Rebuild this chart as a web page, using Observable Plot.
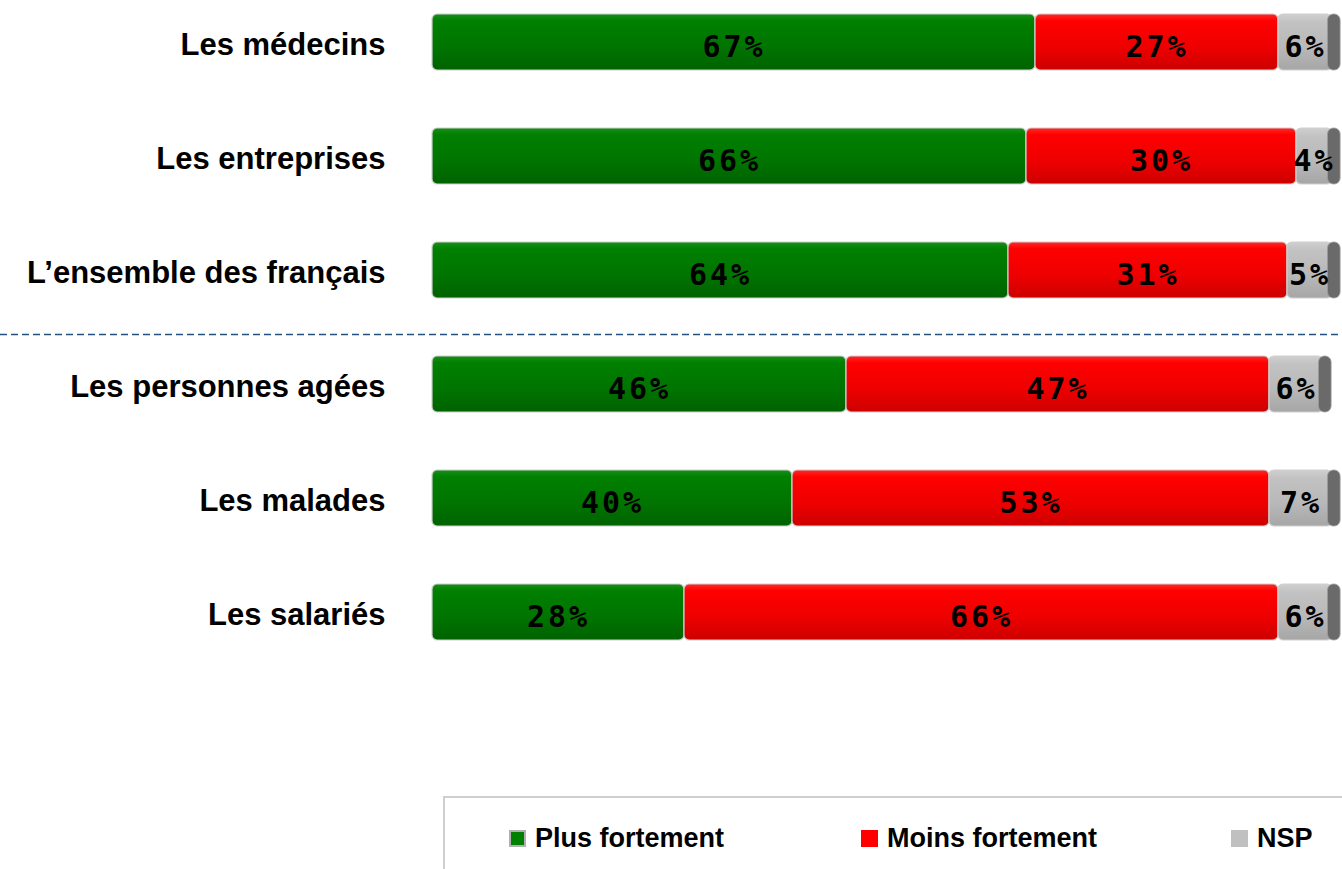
<!DOCTYPE html>
<html>
<head>
<meta charset="utf-8">
<script src="https://cdn.jsdelivr.net/npm/d3@7"></script>
<script src="https://cdn.jsdelivr.net/npm/@observablehq/plot@0.6"></script>
<style>
  body { margin: 0; background: #fff; font-family: "Liberation Sans", Arial, sans-serif; }
  #wrap { position: relative; width: 1342px; height: 869px; overflow: hidden; }
  #legend { position: absolute; left: 443px; top: 796px; width: 1000px; height: 120px;
            border: 2px solid #cfcfcf; box-sizing: border-box; }
  .item { position: absolute; top: 25px; display: flex; align-items: center;
          font: bold 27px "Liberation Sans", Arial, sans-serif; color: #000; }
  .sw { width: 17px; height: 17px; margin-right: 9px; box-sizing: border-box; }
  .vlab text { letter-spacing: 3px; }
</style>
</head>
<body>
<div id="wrap">
  <div id="chart"></div>
  <div id="legend"></div>
</div>
<script>
const categories = ["Les médecins", "Les entreprises", "L’ensemble des français",
                    "Les personnes agées", "Les malades", "Les salariés"];
const seriesNames = ["Plus fortement", "Moins fortement", "NSP"];
const plusFortement = [67, 66, 64, 46, 40, 28];
const moinsFortement = [27, 30, 31, 47, 53, 66];
const nsp = [6, 4, 5, 6, 7, 6];
const separatorBefore = "Les personnes agées";

const seriesFill = {
  "Plus fortement": "url(#gGreen)",
  "Moins fortement": "url(#gRed)",
  "NSP": "url(#gGrey)"
};
const legendColors = {"Plus fortement": "#008000", "Moins fortement": "#ff0000", "NSP": "#c0c0c0"};

const seriesValues = [plusFortement, moinsFortement, nsp];
const data = [];
categories.forEach((c, i) => {
  seriesNames.forEach((s, j) => {
    data.push({cat: c, series: s, value: seriesValues[j][i], fill: seriesFill[s]});
  });
});
const totals = categories.map((c, i) => ({cat: c, total: plusFortement[i] + moinsFortement[i] + nsp[i]}));

const chart = Plot.plot({
  width: 1342,
  height: 790,
  marginLeft: 0, marginRight: 0, marginTop: 0, marginBottom: 0,
  x: {domain: [0, 100], range: [432, 1332], axis: null},
  y: {domain: categories, range: [0, 654], paddingInner: 0.509, paddingOuter: 0.1228, axis: null},
  color: {type: "identity"},
  marks: [
    Plot.barX(data, Plot.stackX({
      x: "value", y: "cat", z: "series", fill: "fill",
      stroke: "#cfcfcf", strokeWidth: 1.2, rx: 5
    })),
    // end cap of the cylinders
    Plot.barX(totals, {y: "cat", x1: d => d.total - 0.5, x2: d => d.total + 0.9,
      fill: "#6a6a6a", stroke: "#9a9a9a", strokeWidth: 0.8, rx: 6}),
    Plot.text(data, Plot.stackX({
      x: "value", y: "cat", z: "series",
      text: d => d.value + "%",
      fontFamily: "DejaVu Sans Mono", fontWeight: "bold", fontSize: 30,
      fill: "#000", dy: 5, className: "vlab"
    })),
    Plot.text(categories, {
      y: d => d, x: 0, dx: -47, text: d => d, textAnchor: "end",
      fontFamily: "Liberation Sans", fontWeight: "bold", fontSize: 31, fill: "#000", dy: 3
    }),
    Plot.ruleY([separatorBefore], {
      dy: -50, stroke: "#24507e", strokeWidth: 1.5, strokeDasharray: "7,4"
    })
  ]
});

chart.insertAdjacentHTML("afterbegin", `
<defs>
  <linearGradient id="gGreen" x1="0" y1="0" x2="0" y2="1">
    <stop offset="0" stop-color="#1a8f1a"/>
    <stop offset="0.12" stop-color="#008000"/>
    <stop offset="0.6" stop-color="#007400"/>
    <stop offset="1" stop-color="#006200"/>
  </linearGradient>
  <linearGradient id="gRed" x1="0" y1="0" x2="0" y2="1">
    <stop offset="0" stop-color="#ff2a2a"/>
    <stop offset="0.12" stop-color="#ff0000"/>
    <stop offset="0.6" stop-color="#ee0000"/>
    <stop offset="1" stop-color="#cc0000"/>
  </linearGradient>
  <linearGradient id="gGrey" x1="0" y1="0" x2="0" y2="1">
    <stop offset="0" stop-color="#cfcfcf"/>
    <stop offset="0.15" stop-color="#c2c2c2"/>
    <stop offset="0.6" stop-color="#b8b8b8"/>
    <stop offset="1" stop-color="#a6a6a6"/>
  </linearGradient>
</defs>`);

document.getElementById("chart").appendChild(chart);

const legend = document.getElementById("legend");
const legendX = [64, 416, 786];
seriesNames.forEach((s, i) => {
  const item = document.createElement("div");
  item.className = "item";
  item.style.left = legendX[i] + "px";
  const sw = document.createElement("span");
  sw.className = "sw";
  sw.style.background = legendColors[s];
  if (i === 0) sw.style.border = "2px solid #b0b0b0";
  item.appendChild(sw);
  const t = document.createElement("span");
  t.textContent = s;
  item.appendChild(t);
  legend.appendChild(item);
});
</script>
</body>
</html>
